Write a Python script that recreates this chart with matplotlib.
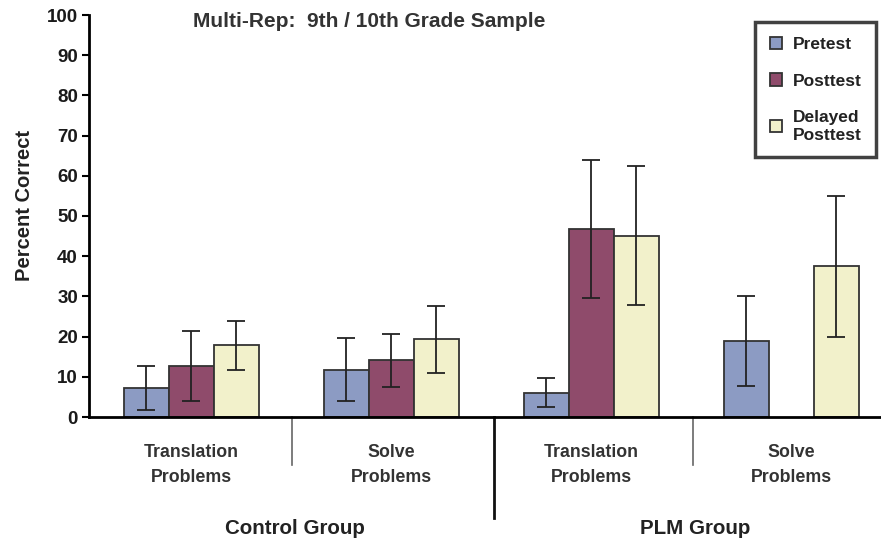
import numpy as np
import matplotlib.pyplot as plt

plt.rcParams['font.family'] = ['Liberation Sans', 'DejaVu Sans']

# groups / problem types
problem_labels = ['Translation\nProblems', 'Solve\nProblems',
                  'Translation\nProblems', 'Solve\nProblems']
group_labels = ['Control Group', 'PLM Group']
series_names = ['Pretest', 'Posttest', 'Delayed\nPosttest']

# mean percent correct and error bar half-widths
pretest = [7.2, 11.8, 6.0, 18.8]
pretest_err = [5.4, 7.9, 3.6, 11.2]
posttest = [12.7, 14.1, 46.7, np.nan]
posttest_err = [8.8, 6.6, 17.2, np.nan]
delayed = [17.8, 19.3, 45.1, 37.5]
delayed_err = [6.2, 8.3, 17.3, 17.5]

colors = ['#8c9bc3', '#8f4b6b', '#f2f1cb']

fig = plt.figure(figsize=(8.81, 5.44), dpi=100)
ax = fig.add_axes([89/881, 127/544, 792/881, 402/544])

x = np.arange(len(problem_labels))
w = 0.225
vals = [pretest, posttest, delayed]
errs = [pretest_err, posttest_err, delayed_err]
for i in range(3):
    ax.bar(x + (i - 1)*w, vals[i], w, color=colors[i], edgecolor='#333333',
           linewidth=1.3, label=series_names[i],
           yerr=errs[i], error_kw=dict(ecolor='#222222', elinewidth=1.3,
                                       capsize=6.5, capthick=1.3))

ax.set_xlim(-0.51, 3.45)
ax.set_ylim(0, 100)
ax.set_yticks(np.arange(0, 101, 10))
ax.tick_params(axis='y', direction='out', length=5, width=1.5, labelsize=13.5, pad=3)
for t in ax.get_yticklabels():
    t.set_fontweight('bold')
    t.set_color('#1a1a1a')
ax.set_xticks([])
ax.spines['top'].set_visible(False)
ax.spines['right'].set_visible(False)
ax.spines['left'].set_linewidth(2)
ax.spines['bottom'].set_linewidth(2)
ax.set_ylabel('Percent Correct', fontsize=14.5, fontweight='bold', color='#222222')
ax.yaxis.set_label_coords(-0.069, 0.525)

# category labels and dividers below the axis
for xi, lab in zip(x, problem_labels):
    ax.text(xi, -12, lab, ha='center', va='center', fontsize=12.8,
            fontweight='bold', color='#333333', linespacing=1.6, clip_on=False)
for xd in [0.505, 2.51]:
    ax.plot([xd, xd], [0, -12], color='#666666', lw=1.2, clip_on=False)
ax.plot([1.515, 1.515], [0, -25], color='#111111', lw=2, clip_on=False)
for xg, lab in zip([0.52, 2.52], group_labels):
    ax.text(xg, -27.7, lab, ha='center', va='center', fontsize=14.8,
            fontweight='bold', color='#222222', clip_on=False)

ax.text(0.01, 98.3, 'Multi-Rep:  9th / 10th Grade Sample', ha='left', va='center',
        fontsize=15, fontweight='bold', color='#333333')

leg = ax.legend(loc='upper right', bbox_to_anchor=(0.994, 0.983), frameon=True,
                fancybox=False, edgecolor='#111111', fontsize=12.5,
                handlelength=0.7, handleheight=0.7, handletextpad=0.6,
                labelspacing=1.25, borderpad=0.85, borderaxespad=0)
leg.get_frame().set_linewidth(2.5)
for t in leg.get_texts():
    t.set_fontweight('bold')
    t.set_color('#222222')

fig.savefig('out.png', dpi=100)
